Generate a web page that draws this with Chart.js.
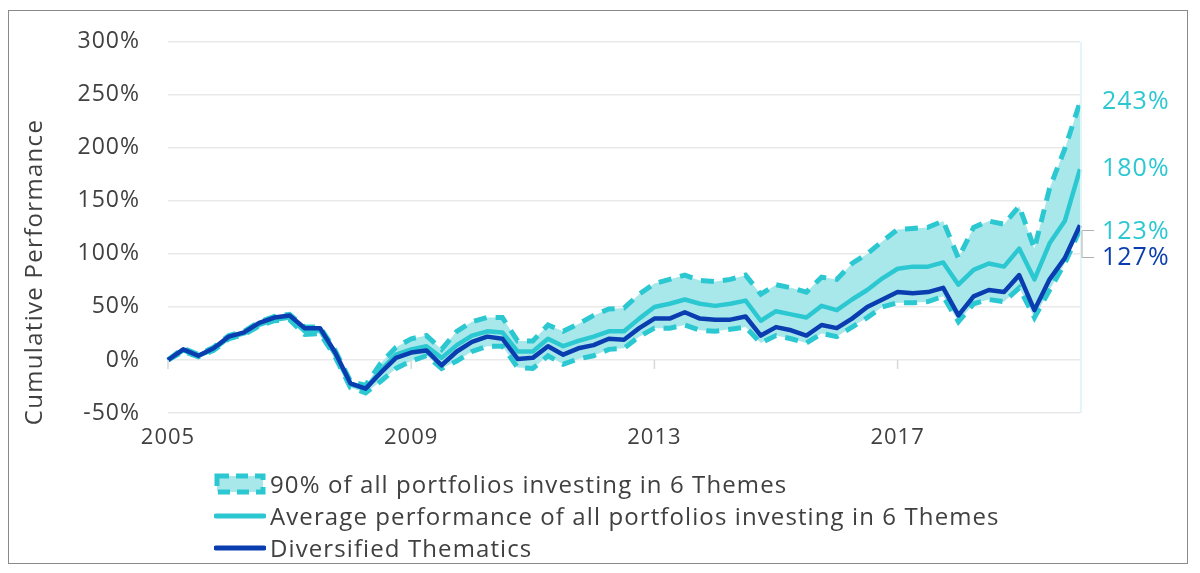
<!DOCTYPE html>
<html>
<head>
<meta charset="utf-8">
<script src="https://cdn.jsdelivr.net/npm/chart.js@4.4.1/dist/chart.umd.min.js"></script>
<style>
  html, body { margin: 0; padding: 0; background: #ffffff; }
  #wrap { position: relative; width: 1200px; height: 573px; overflow: hidden; font-family: "Open Sans", "Noto Sans", sans-serif; }
  #frame { position: absolute; left: 8px; top: 10px; width: 1180px; height: 554px; border: 1.5px solid #8a8a8a; box-sizing: border-box; }
  #c { position: absolute; left: 0; top: 0; }
  #legend { position: absolute; left: 214px; top: 468px; color: #404040; font-size: 24px; letter-spacing: 1.1px; line-height: 32px; }
  .row { display: flex; align-items: center; height: 32px; }
  .row svg { margin-right: 4px; }
</style>
</head>
<body>
<div id="wrap">
  <div id="frame"></div>
  <canvas id="c" width="1200" height="573"></canvas>
  <div id="legend"></div>
</div>
<script>
const categories = [
 '2005Q1','2005Q2','2005Q3','2005Q4','2006Q1','2006Q2','2006Q3','2006Q4',
 '2007Q1','2007Q2','2007Q3','2007Q4','2008Q1','2008Q2','2008Q3','2008Q4',
 '2009Q1','2009Q2','2009Q3','2009Q4','2010Q1','2010Q2','2010Q3','2010Q4',
 '2011Q1','2011Q2','2011Q3','2011Q4','2012Q1','2012Q2','2012Q3','2012Q4',
 '2013Q1','2013Q2','2013Q3','2013Q4','2014Q1','2014Q2','2014Q3','2014Q4',
 '2015Q1','2015Q2','2015Q3','2015Q4','2016Q1','2016Q2','2016Q3','2016Q4',
 '2017Q1','2017Q2','2017Q3','2017Q4','2018Q1','2018Q2','2018Q3','2018Q4',
 '2019Q1','2019Q2','2019Q3','2019Q4','2020Q1'
];
const xTickLabels = ['2005', '2009', '2013', '2017'];
const yTicks = [-50, 0, 50, 100, 150, 200, 250, 300];

const diversified = [0,10,4,11,22,26,35,40,42,30,30,7,-22,-27,-12,2,
  7,9,-5,8,17,22,20,1,2,13,5,11,14,20,19,30,
  39,39,45,39,38,38,41,23,31,28,23,33,30,39,50,57,
  64,63,64,68,42,60,66,64,80,47,76,96,127];
const average = [0,9,4,10,21,25,33,38,40,27,28,5,-23,-27,-10,5,
  10,13,2,14,23,27,26,8,8,20,13,18,22,27,27,39,
  50,53,57,53,51,53,56,37,46,43,40,51,47,57,66,77,
  86,88,88,92,71,85,91,88,105,76,110,131,180];
const upper90 = [0,11,5,12,23,27,36,41,43,31,31,9,-20,-24,-3,12,
  20,23,10,27,36,40,40,18,18,33,27,34,42,48,49,62,
  72,76,80,75,74,76,80,62,71,68,64,78,76,91,100,112,
  123,124,125,131,96,125,131,128,145,105,162,199,243];
const lower90 = [0,8,3,9,20,24,32,37,38,24,25,3,-26,-31,-20,-8,
  -1,4,-8,-1,8,13,13,-7,-8,4,-4,1,4,10,11,22,
  30,30,33,28,27,29,31,16,23,20,16,25,22,31,40,50,
  54,54,55,60,36,53,57,55,68,40,66,91,123];

const endLabels = [
  { text: '243%', value: 243, dy: 0, color: '#2cc8d2' },
  { text: '180%', value: 180, dy: 0, color: '#2cc8d2' },
  { text: '123%', value: 123, dy: 2, color: '#2cc8d2' },
  { text: '127%', value: 123, dy: 28, color: '#0a3eb0' }
];
const yTitle = 'Cumulative Performance';

const CYAN = '#2cc8d2';
const BAND = '#a9e8ea';
const NAVY = '#0a3eb0';
const TXT = '#404040';
const FONT = '"Open Sans", "Noto Sans", sans-serif';

const extras = {
  id: 'extras',
  beforeDraw(chart) { chart.ctx.letterSpacing = '1px'; },
  afterDraw(chart) {
    const ctx = chart.ctx, x = chart.scales.x, y = chart.scales.y, a = chart.chartArea;
    ctx.save();
    ctx.letterSpacing = '0px';
    // right edge faint line
    ctx.strokeStyle = '#d9f3f4';
    ctx.lineWidth = 1.5;
    ctx.beginPath(); ctx.moveTo(a.right + 1, a.top); ctx.lineTo(a.right + 1, a.bottom); ctx.stroke();
    // x ticks at the 0% line
    const y0 = y.getPixelForValue(0);
    ctx.strokeStyle = '#d8d8d8';
    ctx.lineWidth = 1.5;
    categories.forEach((c, i) => {
      if (c.endsWith('Q1') && xTickLabels.includes(c.slice(0, 4))) {
        const px = x.getPixelForValue(i);
        ctx.beginPath(); ctx.moveTo(px, y0); ctx.lineTo(px, y0 + 9); ctx.stroke();
      }
    });
    // y axis title
    ctx.save();
    ctx.translate(35, 272);
    ctx.rotate(-Math.PI / 2);
    ctx.letterSpacing = '1.3px';
    ctx.font = '24px ' + FONT;
    ctx.fillStyle = TXT;
    ctx.textAlign = 'center';
    ctx.textBaseline = 'middle';
    ctx.fillText(yTitle, 0, 0);
    ctx.restore();
    // end labels
    ctx.letterSpacing = '1px';
    ctx.font = '500 25px ' + FONT;
    ctx.textBaseline = 'middle';
    ctx.textAlign = 'left';
    const lx = a.right + 22;
    endLabels.forEach(l => {
      ctx.fillStyle = l.color;
      ctx.fillText(l.text, lx, y.getPixelForValue(l.value) + l.dy);
    });
    // leader lines
    const yA = y.getPixelForValue(123) + 1;
    const yB = y.getPixelForValue(123) + 28;
    const yEnd = y.getPixelForValue(diversified[diversified.length - 1]);
    ctx.strokeStyle = '#b0b0b0';
    ctx.lineWidth = 1;
    ctx.beginPath();
    ctx.moveTo(a.right + 2, yA); ctx.lineTo(a.right + 14, yA);
    ctx.moveTo(a.right + 2, yEnd + 6); ctx.lineTo(a.right + 2, yB); ctx.lineTo(a.right + 14, yB);
    ctx.stroke();
    ctx.restore();
  }
};

new Chart(document.getElementById('c'), {
  type: 'line',
  data: {
    labels: categories,
    datasets: [
      { label: 'Diversified Thematics', data: diversified, borderColor: NAVY, borderWidth: 4.5, pointRadius: 0, fill: false, order: 0, borderJoinStyle: 'round' },
      { label: 'Average performance of all portfolios investing in 6 Themes', data: average, borderColor: CYAN, borderWidth: 4.5, pointRadius: 0, fill: false, order: 1, borderJoinStyle: 'round' },
      { label: '90% lower', data: lower90, borderColor: CYAN, borderWidth: 5, borderDash: [13, 9], pointRadius: 0, fill: false, order: 2 },
      { label: '90% of all portfolios investing in 6 Themes', data: upper90, borderColor: CYAN, backgroundColor: BAND, borderWidth: 5, borderDash: [13, 9], pointRadius: 0, fill: '-1', order: 3 }
    ]
  },
  options: {
    responsive: false,
    animation: false,
    devicePixelRatio: 1,
    layout: { padding: { left: 20, right: 120, top: 32, bottom: 120 } },
    plugins: { legend: { display: false }, tooltip: { enabled: false } },
    elements: { line: { tension: 0 } },
    scales: {
      x: {
        offset: false,
        grid: { display: false, drawTicks: false },
        border: { display: false },
        afterFit(s) { s.height = 40; },
        ticks: {
          autoSkip: false, maxRotation: 0, padding: 12, color: TXT,
          font: { family: FONT, size: 22 },
          callback(v, i) {
            const c = categories[i];
            return (c.endsWith('Q1') && xTickLabels.includes(c.slice(0, 4))) ? c.slice(0, 4) : '';
          }
        }
      },
      y: {
        min: -50, max: 300,
        afterFit(s) { s.width = 148; },
        afterBuildTicks(s) { s.ticks = yTicks.map(v => ({ value: v })); },
        grid: { color: '#e9e9e9', lineWidth: 1.5, drawTicks: false },
        border: { display: false },
        ticks: { padding: 28, color: TXT, font: { family: FONT, size: 23 }, callback: v => v + '%' }
      }
    }
  },
  plugins: [extras]
});

// legend
const legendItems = [
  { text: '90% of all portfolios investing in 6 Themes', kind: 'band' },
  { text: 'Average performance of all portfolios investing in 6 Themes', kind: 'avg' },
  { text: 'Diversified Thematics', kind: 'div' }
];
const lg = document.getElementById('legend');
legendItems.forEach(it => {
  const row = document.createElement('div');
  row.className = 'row';
  let svg;
  if (it.kind === 'band') {
    svg = '<svg width="52" height="22"><rect x="3" y="3" width="46" height="16" fill="' + BAND + '" stroke="' + CYAN + '" stroke-width="5" stroke-dasharray="12,7"/></svg>';
  } else {
    svg = '<svg width="52" height="22"><line x1="2" y1="11" x2="50" y2="11" stroke="' + (it.kind === 'avg' ? CYAN : NAVY) + '" stroke-width="5" stroke-linecap="round"/></svg>';
  }
  row.innerHTML = svg + '<span>' + it.text + '</span>';
  lg.appendChild(row);
});
</script>
</body>
</html>
